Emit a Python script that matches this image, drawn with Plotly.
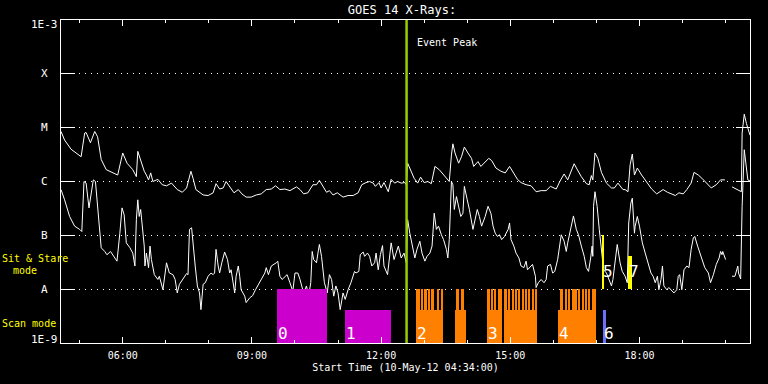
import pandas as pd
import plotly.graph_objects as go

START = pd.Timestamp("2012-05-10 04:34:00")
END = pd.Timestamp("2012-05-10 20:34:00")
EVENT_PEAK = "2012-05-10 12:35:30"

# GOES-14 XRS long channel (1-8 A): minutes after start, log10 flux (W/m^2)
long_t = [0, 5, 14, 28, 33, 35, 41, 47, 51, 56,
          63, 72, 79, 86, 92, 100, 105, 107, 111, 116,
          119, 122, 125, 128, 135, 141, 147, 154, 162, 169,
          175, 181, 184, 188, 198, 205, 212, 216, 221, 226,
          230, 236, 241, 247, 252, 258, 265, 272, 279, 286,
          293, 299, 305, 312, 319, 328, 333, 338, 344, 351,
          356, 360, 364, 370, 374, 379, 385, 393, 400, 407,
          414, 419, 425, 430, 435, 438, 443, 446, 450, 456,
          460, 465, 469, 474, 479, 481, 483, 487, 492, 497,
          501, 506, 511, 516, 521, 527, 532, 538, 541, 544,
          546, 549, 554, 558, 562, 567, 572, 575, 581, 585,
          590, 596, 600, 606, 613, 619, 625, 630, 636, 641,
          648, 655, 662, 669, 676, 682, 690, 695, 701, 706,
          715, 719, 725, 732, 736, 739, 741, 744, 748, 753,
          760, 767, 771, 776, 783, 786, 790, 793, 796, 799,
          803, 809, 816, 823, 830, 834, 839, 845, 852, 856,
          861, 867, 872, 878, 882, 888, 893, 899, 906, 913,
          919, 925, 928, 935, 943, 948, 949, 952, 955, 960]
long_log = [-5.07, -5.23, -5.40, -5.54, -5.10, -5.09, -5.28, -5.07, -5.17, -5.59,
            -5.78, -5.83, -5.88, -5.47, -5.66, -5.78, -5.91, -5.44, -5.59, -5.81,
            -5.88, -5.97, -5.84, -6.00, -5.96, -6.06, -6.08, -6.03, -6.15, -6.20,
            -6.12, -5.81, -5.94, -6.15, -6.25, -6.26, -6.21, -6.04, -6.14, -6.12,
            -6.00, -6.12, -6.21, -6.15, -6.23, -6.29, -6.29, -6.25, -6.23, -6.15,
            -6.14, -6.08, -6.15, -6.14, -6.17, -6.10, -6.15, -6.23, -6.21, -6.06,
            -6.06, -5.98, -6.06, -6.20, -6.17, -6.25, -6.21, -6.29, -6.26, -6.26,
            -6.21, -6.06, -6.02, -6.00, -6.03, -6.09, -6.02, -6.12, -6.02, -6.19,
            -5.96, -6.03, -6.00, -6.03, -6.02, -6.06, -5.66, -5.78, -5.94, -6.03,
            -5.92, -6.02, -6.00, -6.04, -5.72, -5.78, -5.86, -5.96, -6.00, -5.51,
            -5.30, -5.47, -5.66, -5.54, -5.36, -5.47, -5.57, -5.72, -5.63, -5.72,
            -5.66, -5.57, -5.61, -5.75, -5.81, -5.84, -5.72, -5.84, -5.96, -6.02,
            -6.06, -6.08, -6.19, -6.17, -6.17, -6.09, -6.14, -6.00, -5.86, -5.97,
            -5.67, -5.77, -5.91, -6.04, -6.06, -5.89, -5.97, -5.47, -5.57, -5.83,
            -6.03, -6.12, -6.12, -6.03, -6.15, -6.15, -6.19, -5.69, -5.49, -5.88,
            -5.75, -5.88, -6.00, -6.14, -6.23, -6.20, -6.15, -6.20, -6.23, -6.26,
            -6.21, -6.23, -6.15, -6.03, -5.83, -5.88, -5.94, -6.03, -6.12, -6.06,
            -5.97, -5.97, None, -6.10, -6.15, -6.19, -5.10, -4.75, -4.92, -5.14]

# GOES-14 XRS short channel (0.5-4 A)
short_t = [0, 5, 12, 19, 26, 29, 32, 35, 39, 42,
           45, 48, 51, 54, 56, 61, 64, 69, 75, 78,
           82, 85, 88, 91, 96, 100, 103, 105, 107, 109,
           111, 113, 116, 117, 119, 122, 124, 126, 130, 135,
           137, 142, 147, 151, 156, 159, 162, 165, 170, 175,
           177, 179, 182, 184, 187, 190, 193, 195, 198, 201,
           205, 209, 212, 214, 216, 219, 221, 224, 228, 232,
           235, 237, 240, 242, 244, 247, 249, 251, 256, 258,
           263, 267, 271, 274, 277, 281, 284, 286, 289, 293,
           297, 300, 302, 305, 308, 312, 315, 319, 323, 326,
           330, 333, 336, 338, 342, 345, 348, 350, 352, 356,
           358, 360, 363, 365, 367, 371, 374, 377, 380, 383,
           386, 389, 393, 396, 400, 404, 407, 409, 411, 415,
           417, 421, 423, 427, 430, 433, 437, 439, 442, 445,
           448, 450, 455, 458, 460, 464, 467, 470, 474, 478,
           481, 483, 486, 489, 493, 496, 500, 503, 507, 510,
           514, 517, 520, 523, 526, 530, 533, 537, 539, 541,
           544, 546, 548, 551, 553, 557, 560, 562, 566, 569,
           574, 577, 580, 583, 586, 591, 595, 599, 602, 605,
           608, 611, 614, 618, 623, 625, 627, 631, 634, 638,
           641, 645, 648, 650, 654, 657, 661, 662, 665, 669,
           673, 676, 678, 682, 685, 688, 692, 695, 697, 701,
           704, 706, 710, 714, 718, 721, 725, 729, 732, 735,
           738, 740, 741, 742, 744, 747, 750, 753, 756, 760,
           763, 767, 769, 772, 775, 779, 782, 786, 789, 791,
           794, 796, 799, 800, 803, 806, 810, 814, 818, 822,
           825, 828, 831, 833, 836, 838, 840, 844, 847, 851,
           854, 858, 860, 862, 865, 868, 872, 875, 878, 881,
           883, 887, 890, 893, 897, 902, 905, 909, 913, 917,
           919, 921, 922, 926, 928, 935, 939, 943, 944, 947,
           949, 952, 955, 957, 960]
short_log = [-6.15, -6.34, -6.65, -6.83, -6.89, -6.93, -6.00, -6.03, -6.49, -6.19,
             -5.97, -6.00, -6.52, -6.96, -7.23, -7.30, -7.36, -7.30, -7.42, -7.48,
             -6.96, -6.49, -6.62, -7.14, -7.23, -7.33, -7.57, -6.71, -6.34, -6.65,
             -6.52, -6.77, -7.20, -7.57, -7.33, -7.60, -7.20, -7.45, -7.73, -7.82,
             -7.76, -8.01, -7.51, -7.70, -7.73, -7.82, -8.07, -7.91, -7.82, -7.71,
             -7.73, -6.89, -6.86, -7.20, -7.57, -7.94, -8.07, -8.38, -7.91, -7.88,
             -7.76, -7.70, -7.73, -7.70, -7.26, -7.57, -7.70, -7.51, -7.31, -7.45,
             -7.70, -7.64, -7.88, -8.07, -7.76, -7.57, -7.76, -8.01, -8.13, -8.25,
             -8.16, -8.12, -8.01, -7.94, -7.88, -7.79, -7.70, -7.60, -7.73, -7.57,
             -7.54, -7.51, -7.48, -7.76, -7.82, -7.76, -7.73, -7.88, -8.04, -7.70,
             -7.70, -7.82, -7.97, -8.07, -7.94, -8.13, -7.88, -7.30, -7.45, -7.51,
             -7.33, -7.17, -7.39, -7.70, -7.88, -8.07, -7.73, -7.82, -8.13, -7.94,
             -8.07, -8.38, -8.07, -8.19, -8.01, -7.88, -7.76, -7.67, -7.70, -7.67,
             -7.36, -7.31, -7.39, -7.33, -7.39, -7.57, -7.51, -7.33, -7.64, -7.36,
             -7.19, -7.57, -7.73, -7.39, -7.14, -7.45, -7.33, -7.20, -7.42, -7.33,
             -7.51, -6.71, -6.96, -7.17, -7.42, -7.26, -7.11, -7.33, -7.48, -7.39,
             -7.33, -7.20, -6.59, -6.89, -6.83, -6.99, -7.08, -7.26, -7.42, -7.08,
             -6.00, -6.06, -6.52, -6.28, -6.40, -6.65, -6.59, -6.09, -6.34, -6.52,
             -6.89, -6.71, -6.52, -6.65, -6.83, -6.65, -6.46, -6.59, -6.83, -6.96,
             -7.02, -6.99, -7.08, -7.02, -6.89, -6.77, -7.08, -7.20, -7.33, -7.42,
             -7.57, -7.60, -7.48, -7.64, -7.57, -7.54, -7.76, -7.97, -7.88, -7.82,
             -7.88, -7.82, -7.57, -7.54, -7.70, -7.67, -7.45, -7.20, -6.99, -7.11,
             -7.30, -7.14, -6.89, -6.64, -6.89, -6.99, -7.20, -7.39, -7.60, -7.67,
             -7.42, -7.20, -7.39, -6.46, -6.19, -6.46, -6.89, -7.33, -7.64, -7.70,
             -7.82, -7.94, -7.82, -7.51, -7.17, -7.51, -7.67, -7.76, -7.88, -6.77,
             -6.40, -6.31, -6.96, -6.83, -6.65, -6.83, -7.14, -7.33, -7.51, -7.70,
             -7.76, -7.88, -7.76, -8.01, -7.82, -7.57, -7.94, -8.01, -7.97, -8.04,
             -8.07, -8.01, -7.76, -7.73, -8.01, -7.64, -7.57, -7.60, -7.26, -7.05,
             -7.02, -7.20, -7.33, -7.45, -7.60, -7.70, -7.88, -7.73, -7.54, -7.42,
             -7.30, -7.36, -7.30, -7.45, None, -7.76, -7.76, -7.57, -7.70, -7.81,
             -6.46, -5.41, -5.69, -5.97, -5.99]

# Scan-mode observation blocks (minutes after start); level = fraction of the band height
scan_start = [300.5, 395.6, 494.5, 548.8, 593.0, 617.1, 691.9, 755.0]
scan_end = [370.1, 459.7, 531.7, 564.2, 613.9, 663.5, 745.3, 759.2]
scan_level = [1.0, 0.61, 0.61, 0.61, 0.61, 0.61, 0.61, 0.61]
scan_color = ["#cc00cc", "#cc00cc", "#ff8000", "#ff8000", "#ff8000", "#ff8000", "#ff8000", "#6f6fff"]

# Individual full-height scan rasters inside the orange blocks
raster_start = [494.5, 502.4, 507.1, 511.6, 515.8, 523.8, 529.8, 550.9, 557.6,
                593.0, 598.6, 603.9, 608.7, 617.1, 623.1, 627.8, 632.4, 637.0, 641.7,
                646.3, 650.9, 655.7, 660.3, 695.1, 702.1, 706.7, 711.4, 716.0, 720.6,
                725.3, 729.9, 734.5, 739.3]
raster_end = [500.1, 504.7, 509.4, 514.0, 520.0, 527.2, 531.7, 555.1, 561.4,
              597.2, 601.8, 606.6, 613.9, 620.9, 625.9, 630.6, 635.2, 639.8, 644.5,
              649.1, 653.7, 658.5, 663.5, 699.7, 704.9, 709.5, 714.2, 718.7, 723.4,
              728.1, 732.7, 737.3, 745.3]

# Sit & stare observations
sit_start = [753.6, 789.4]
sit_end = [756.4, 795.0]
sit_level = [1.0, 0.62]

# Observation numbers
scan_labels = ["0", "1", "2", "3", "4", "6"]
scan_label_t = [300.5, 395.6, 494.5, 593.0, 691.9, 755.0]
sit_labels = ["5", "7"]
sit_label_t = [753.6, 789.4]

# Y axis (GOES class) labels
class_vals = [-9, -8, -7, -6, -5, -4, -3]
class_text = ["1E-9", "A", "B", "C", "M", "X", "1E-3"]

assert len(long_t) == len(long_log) and len(short_t) == len(short_log)

MONO = "DejaVu Sans Mono"


def times(mins):
    return [START + pd.Timedelta(minutes=m) for m in mins]


def flux(vals):
    return [None if v is None else 10 ** v for v in vals]


def mids(s, e):
    return [START + pd.Timedelta(minutes=(a + b) / 2) for a, b in zip(s, e)]


def widths(s, e):
    return [(b - a) * 60000 for a, b in zip(s, e)]


fig = go.Figure()

# Scan mode blocks (band from 1E-9 to A, on linear exponent axis y2)
fig.add_trace(go.Bar(x=mids(scan_start, scan_end), y=scan_level, base=-9,
                     width=widths(scan_start, scan_end), marker=dict(color=scan_color, line=dict(width=0)),
                     yaxis="y2", showlegend=False, hoverinfo="skip"))
fig.add_trace(go.Bar(x=mids(raster_start, raster_end), y=[1.0] * len(raster_start), base=-9,
                     width=widths(raster_start, raster_end), marker=dict(color="#ff8000", line=dict(width=0)),
                     yaxis="y2", showlegend=False, hoverinfo="skip"))
# Sit & stare (band from A to B)
fig.add_trace(go.Bar(x=mids(sit_start, sit_end), y=sit_level, base=-8,
                     width=widths(sit_start, sit_end), marker=dict(color="#ffff00", line=dict(width=0)),
                     yaxis="y2", showlegend=False, hoverinfo="skip"))

# X-ray curves
fig.add_trace(go.Scatter(x=times(long_t), y=flux(long_log), mode="lines",
                         line=dict(color="white", width=1), connectgaps=False, showlegend=False))
fig.add_trace(go.Scatter(x=times(short_t), y=flux(short_log), mode="lines",
                         line=dict(color="white", width=1), connectgaps=False, showlegend=False))

fig.add_vline(x=EVENT_PEAK, line=dict(color="#99cc00", width=2.5), layer="above")

ann = []
for v, t in zip(class_vals, class_text):
    ys = -4 if v == -3 else (4 if v == -9 else 0)
    ann.append(dict(x=-0.024, xref="paper", y=v, yref="y", text=t, showarrow=False,
                    xanchor="center", yanchor="middle", yshift=ys,
                    font=dict(family=MONO, size=11, color="white")))
for lab, t in zip(scan_labels, scan_label_t):
    ann.append(dict(x=START + pd.Timedelta(minutes=t), xref="x", y=-9, yref="y2", text=lab,
                    showarrow=False, xanchor="left", yanchor="bottom", xshift=-1, yshift=-2,
                    font=dict(family=MONO, size=16, color="white")))
for lab, t in zip(sit_labels, sit_label_t):
    ann.append(dict(x=START + pd.Timedelta(minutes=t), xref="x", y=-8, yref="y2", text=lab,
                    showarrow=False, xanchor="left", yanchor="bottom", xshift=-1, yshift=6,
                    font=dict(family=MONO, size=16, color="white")))
ann.append(dict(x=EVENT_PEAK, xref="x", y=0.929, yref="paper", text="Event Peak", showarrow=False,
                xanchor="left", yanchor="middle", xshift=8,
                font=dict(family=MONO, size=10, color="white")))
ann.append(dict(x=-0.088, xref="paper", y=-7.43, yref="y", text="Sit & Stare", showarrow=False,
                xanchor="left", yanchor="middle", font=dict(family=MONO, size=10, color="#ffff00")))
ann.append(dict(x=-0.072, xref="paper", y=-7.65, yref="y", text="mode", showarrow=False,
                xanchor="left", yanchor="middle", font=dict(family=MONO, size=10, color="#ffff00")))
ann.append(dict(x=-0.088, xref="paper", y=-8.63, yref="y", text="Scan mode", showarrow=False,
                xanchor="left", yanchor="middle", font=dict(family=MONO, size=10, color="#ffff00")))

fig.update_layout(
    width=768, height=384, autosize=False,
    margin=dict(l=61, r=18, t=20, b=41),
    paper_bgcolor="black", plot_bgcolor="black",
    barmode="overlay", bargap=0,
    title=dict(text="GOES 14 X-Rays:", x=0.5234, xref="container", xanchor="center",
               y=0.975, yref="container", yanchor="middle",
               font=dict(family=MONO, size=12, color="white")),
    xaxis=dict(type="date", range=[START, END], tick0="2012-05-10 00:00:00", dtick=3 * 3600000,
               tickformat="%H:%M", ticks="inside", ticklen=6, tickwidth=1, tickcolor="white",
               showline=True, linecolor="white", linewidth=1, mirror="ticks",
               showgrid=False, zeroline=False, ticklabelstandoff=3,
               minor=dict(dtick=3600000, ticks="inside", ticklen=3, tickwidth=1, tickcolor="white", showgrid=False),
               tickfont=dict(family=MONO, size=10, color="white"),
               title=dict(text="Start Time (10-May-12 04:34:00)", standoff=3,
                          font=dict(family=MONO, size=10, color="white"))),
    yaxis=dict(type="log", range=[-9, -3], tickvals=[10.0 ** v for v in class_vals],
               ticks="inside", ticklen=14, tickwidth=1, tickcolor="white", showticklabels=False,
               showgrid=True, gridcolor="white", gridwidth=1, griddash="1px,5px",
               showline=True, linecolor="white", linewidth=1, mirror="ticks", zeroline=False),
    yaxis2=dict(range=[-9, -3], overlaying="y", visible=False),
    annotations=ann,
)

fig.write_html("out.html", config={"displayModeBar": False},
               post_script="document.body.style.margin='0';document.body.style.background='black';")
